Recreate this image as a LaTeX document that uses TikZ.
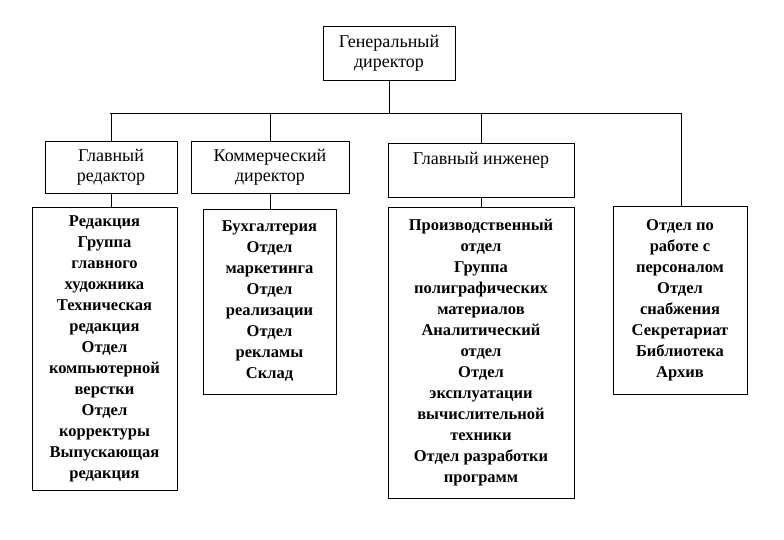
\documentclass[tikz,border=0pt]{standalone}
\usepackage{fontspec}
\setmainfont{Liberation Serif}
\usetikzlibrary{calc}

\tikzset{
    orgbox/.style={draw, line width=0.8pt, inner sep=0pt, outer sep=0pt, align=center,
        font=\fontsize{18}{20}\selectfont},
    listbox/.style={orgbox, font=\fontsize{16.5}{21}\selectfont\bfseries},
    link/.style={line width=0.8pt}
}

\begin{document}
\begin{tikzpicture}[x=1pt, y=-1pt]

\useasboundingbox (0,0) rectangle (784,540);

	%%% top
    \node[orgbox, minimum width=132pt, minimum height=54pt] (gd) at (389,53) {Генеральный\\директор};

	%%% heads
    \node[orgbox, minimum width=132pt, minimum height=52pt] (red) at (111,167) {Главный\\редактор};
    \node[orgbox, minimum width=158pt, minimum height=52pt] (kom) at (270,167) {Коммерческий\\директор};
    \node[orgbox, minimum width=186pt, minimum height=54pt, text depth=24pt] (ing) at (481,170) {Главный инженер};

	%%% lists
    \node[listbox, minimum width=145pt, minimum height=283pt] (redL) at (104.5,348.5)
        {Редакция\\Группа\\главного\\художника\\Техническая\\редакция\\Отдел\\компьютерной\\верстки\\Отдел\\корректуры\\Выпускающая\\редакция};
    \node[listbox, minimum width=133pt, minimum height=185pt] (komL) at (269.5,301.5)
        {Бухгалтерия\\Отдел\\маркетинга\\Отдел\\реализации\\Отдел\\рекламы\\Склад};
    \node[listbox, minimum width=186pt, minimum height=291pt] (ingL) at (481,352.5)
        {Производственный\\отдел\\Группа\\полиграфических\\материалов\\Аналитический\\отдел\\Отдел\\эксплуатации\\вычислительной\\техники\\Отдел разработки\\программ};
    \node[listbox, minimum width=134pt, minimum height=188pt] (perL) at (680,300)
        {Отдел по\\работе с\\персоналом\\Отдел\\снабжения\\Секретариат\\Библиотека\\Архив};

	%%% links
    \coordinate (busL) at (110,113);
    \coordinate (busR) at (681,113);

    \draw[link] (busL) -- (busR);
    \draw[link] (gd.south) -- (gd.south |- busL);
    \draw[link] (red.north |- busL) -- (red.north);
    \draw[link] (kom.north |- busL) -- (kom.north);
    \draw[link] (ing.north |- busL) -- (ing.north);
    \draw[link] (busR) -- (busR |- perL.north);

    \draw[link] (red.south) -- (red.south |- redL.north);
    \draw[link] (kom.south) -- (kom.south |- komL.north);
    \draw[link] (ing.south) -- (ingL.north);

\end{tikzpicture}
\end{document}
